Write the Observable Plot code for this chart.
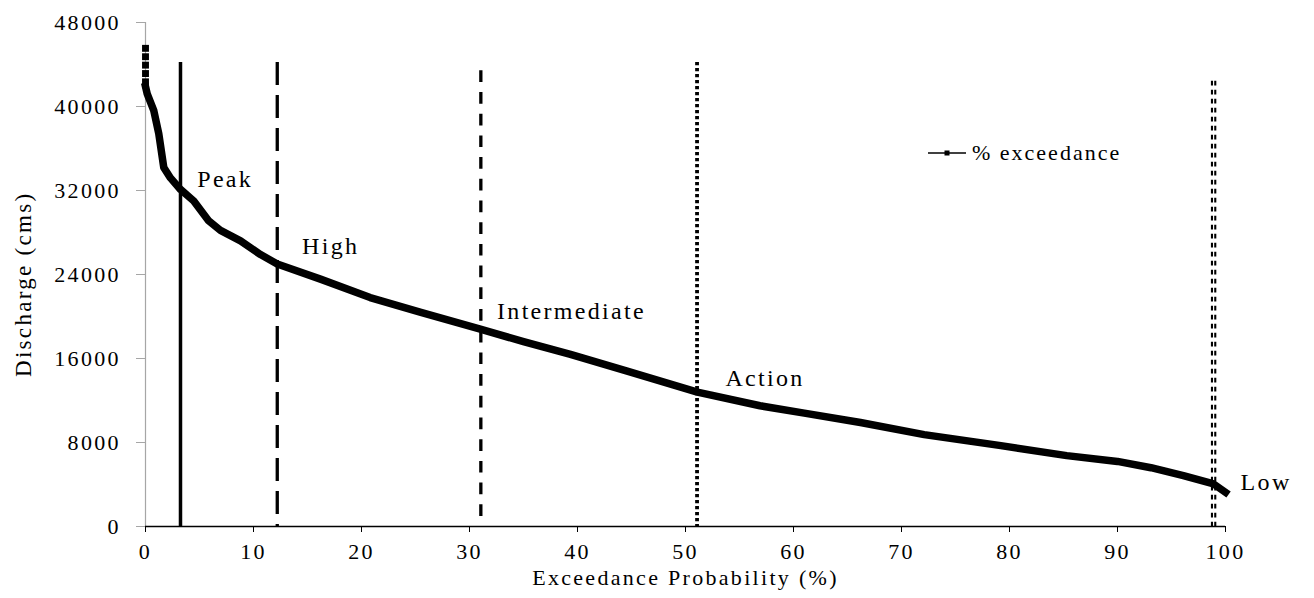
<!DOCTYPE html>
<html>
<head>
<meta charset="utf-8">
<script src="https://cdn.jsdelivr.net/npm/d3@7"></script>
<script src="https://cdn.jsdelivr.net/npm/@observablehq/plot@0.6"></script>
<style>
  html, body { margin: 0; padding: 0; background: white; }
  #wrap { position: relative; width: 1314px; height: 598px; font-family: 'Liberation Serif', 'Times New Roman', serif; }
  #legend { position: absolute; left: 928px; top: 140px; display: flex; align-items: center; font-family: 'Liberation Serif', serif; font-size: 22px; letter-spacing: 2px; color: black; white-space: nowrap; }
  #legend svg { margin-right: 6px; }
</style>
</head>
<body>
<div id="wrap"><div id="legend"><svg width="38" height="10"><line x1="0" y1="5" x2="38" y2="5" stroke="black" stroke-width="1.5"/><rect x="16.5" y="2.5" width="5" height="5" fill="black"/></svg><span>% exceedance</span></div></div>
<script>
// Exceedance curve (x = exceedance probability %, y = discharge cms)
const curveX = [0, 0.16, 0.77, 1.23, 1.69, 2.31, 3.24, 4.47, 5.86, 6.94, 8.8, 10.65, 12.2, 16.2, 20.8, 25.5, 31.0, 35, 39.35, 44.6, 51.1, 56.9, 61, 66.2, 72.1, 79.2, 85.3, 90, 93.1, 96.1, 98.9, 100];
const curveY = [41900, 41200, 39600, 37400, 34200, 33200, 32100, 31000, 29100, 28200, 27200, 25900, 25000, 23560, 21800, 20400, 18800, 17600, 16400, 14800, 12800, 11500, 10800, 9900, 8750, 7700, 6750, 6200, 5600, 4850, 4050, 3250];
// Highest flows plotted as separate markers at 0 %
const topMarkerY = [45540, 44740, 43940, 43140, 42350];

// Flow threshold lines
const thresholdNames = ["Peak", "High", "Intermediate", "Action", "Low"];
const thresholdX = [3.24, 12.2, 31.05, 51.07, 98.9];
const thresholdTop = [44200, 44200, 43400, 44200, 42400];

// Threshold labels (data-space anchor)
const labelX = [4.79, 14.5, 32.55, 53.7, 101.4];
const labelY = [32350, 26000, 19750, 13400, 3470];

const xTicks = [0, 10, 20, 30, 40, 50, 60, 70, 80, 90, 100];
const yTicks = [0, 8000, 16000, 24000, 32000, 40000, 48000];

const curve = curveX.map((x, i) => ({x, y: curveY[i]}));
const markers = topMarkerY.map(y => ({x: 0, y}));
const thresholds = thresholdNames.map((name, i) => ({name, x: thresholdX[i], top: thresholdTop[i]}));
const labels = thresholdNames.map((name, i) => ({name, x: labelX[i], y: labelY[i]}));

const styleFor = {
  Peak: {strokeWidth: 3.5},
  High: {strokeWidth: 3.3, strokeDasharray: "23,10"},
  Intermediate: {strokeWidth: 3.3, strokeDasharray: "11.7,10"},
  Action: {strokeWidth: 3.8, strokeDasharray: "3.3,2.7"}
};

const ruleMarks = [];
for (const t of thresholds) {
  if (t.name === "Low") {
    for (const dx of [-1.65, 1.65]) {
      ruleMarks.push(Plot.ruleX([t], {x: "x", y1: "top", y2: () => 0, dx, stroke: "black", strokeWidth: 2.1, strokeDasharray: "4.7,4.3"}));
    }
  } else {
    ruleMarks.push(Plot.ruleX([t], {x: "x", y1: "top", y2: () => 0, stroke: "black", ...styleFor[t.name]}));
  }
}

const chart = Plot.plot({
  width: 1314,
  height: 598,
  marginLeft: 145,
  marginRight: 89,
  marginTop: 22,
  marginBottom: 72,
  style: {fontFamily: "'Liberation Serif', 'Times New Roman', serif", fontSize: "22px", background: "white", color: "black", overflow: "visible"},
  x: {domain: [0, 100]},
  y: {domain: [0, 48000]},
  marks: [
    Plot.axisX({ticks: xTicks, tickSize: 6, tickPadding: 11, stroke: "black", fill: "black", label: null, tickFormat: d => String(d)}),
    Plot.axisY({ticks: yTicks, tickSize: 9, tickPadding: 15.7, stroke: "#a6a6a6", fill: "black", label: null, tickFormat: d => String(d)}),
    Plot.ruleX([0], {stroke: "#a6a6a6", strokeWidth: 1.2}),
    Plot.ruleY([0], {stroke: "black", strokeWidth: 1.5}),
    ...ruleMarks,
    Plot.line(curve, {x: "x", y: "y", stroke: "black", strokeWidth: 7.5, strokeLinejoin: "round", strokeLinecap: "square"}),
    Plot.dot(markers, {x: "x", y: "y", symbol: "square", r: 3.9, fill: "black", stroke: null}),
    Plot.text(labels, {x: "x", y: "y", text: "name", textAnchor: "start", lineAnchor: "bottom", fontSize: 24, fill: "black", ariaLabel: "annotations"}),
    Plot.text(["Exceedance Probability (%)"], {frameAnchor: "bottom", dy: 58, lineAnchor: "bottom", text: d => d, fill: "black", fontSize: 22}),
    Plot.text(["Discharge (cms)"], {frameAnchor: "left", y: () => 23070, dx: -115, rotate: -90, textAnchor: "middle", lineAnchor: "bottom", text: d => d, fill: "black", fontSize: 23, ariaLabel: "ylabel"})
  ]
});

document.getElementById("wrap").prepend(chart);
d3.select(chart).selectAll("text").style("letter-spacing", "2.3px");
d3.select(chart).selectAll('g[aria-label="annotations"] text').style("letter-spacing", "3px");
d3.select(chart).selectAll('g[aria-label="ylabel"] text').style("letter-spacing", "0px");
</script>
</body>
</html>
